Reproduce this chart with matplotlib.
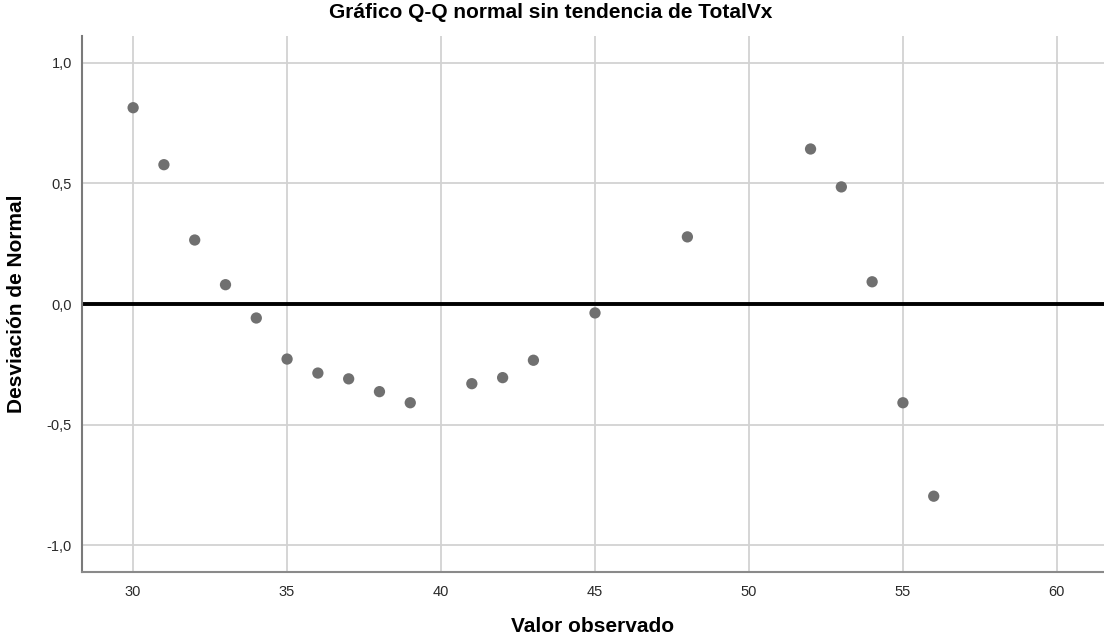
import numpy as np
import matplotlib.pyplot as plt
from matplotlib.ticker import FuncFormatter

plt.rcParams['font.family'] = ['Liberation Sans', 'DejaVu Sans']

# observed values and detrended deviation from normal
observed = [30, 31, 32, 33, 34, 35, 36, 37, 38, 39, 41, 42, 43, 45, 48, 52, 53, 54, 55, 56]
deviation = [0.813, 0.577, 0.265, 0.080, -0.058, -0.228, -0.286, -0.310, -0.363, -0.409,
             -0.330, -0.305, -0.233, -0.037, 0.278, 0.642, 0.485, 0.092, -0.409, -0.796]
xticks = [30, 35, 40, 45, 50, 55, 60]
yticks = [-1.0, -0.5, 0.0, 0.5, 1.0]

fig = plt.figure(figsize=(11.04, 6.44), dpi=100)
ax = fig.add_axes([81.7 / 1104, 1 - 572 / 644, 1 - 81.7 / 1104, (572 - 36) / 644])

ax.set_xlim(28.33, 61.53)
ax.set_ylim(-1.11, 1.11)
ax.set_xticks(xticks)
ax.set_yticks(yticks)
ax.grid(True, color='#d2d2d2', linewidth=1.3)
ax.set_axisbelow(True)

ax.axhline(0, color='black', linewidth=2.8, zorder=2)
ax.scatter(observed, deviation, s=66, color='#707070', edgecolors='none', zorder=3)

comma = FuncFormatter(lambda v, p: ('%.1f' % v).replace('.', ','))
ax.yaxis.set_major_formatter(comma)
ax.tick_params(length=0, labelsize=10.5, colors='#2a2a2a')
ax.tick_params(axis='y', pad=7)
ax.tick_params(axis='x', pad=9)

for s in ['top', 'right']:
    ax.spines[s].set_visible(False)
ax.spines['left'].set_color('#7a7a7a')
ax.spines['left'].set_linewidth(1.5)
ax.spines['bottom'].set_color('#8a8a8a')
ax.spines['bottom'].set_linewidth(1.5)

ax.set_xlabel('Valor observado', fontsize=15, fontweight='bold', labelpad=13)
ax.set_ylabel('Desviación de Normal', fontsize=15, fontweight='bold', labelpad=15)
fig.text(551 / 1104, 1 - 12 / 644, 'Gráfico Q-Q normal sin tendencia de TotalVx',
         ha='center', va='center', fontsize=15, fontweight='bold')

fig.savefig('out.png', dpi=100)
